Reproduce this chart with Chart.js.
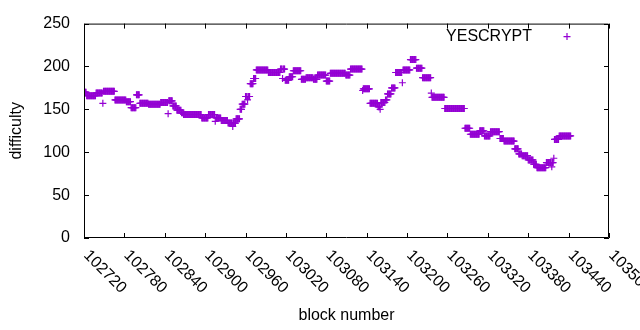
<!DOCTYPE html>
<html><head><meta charset="utf-8">
<script src="https://cdn.jsdelivr.net/npm/chart.js@4/dist/chart.umd.min.js"></script>
<style>html,body{margin:0;padding:0;background:#fff}canvas{display:block}</style>
</head><body>
<canvas id="c" width="640" height="330"></canvas>
<script>
const seriesLabel = 'YESCRYPT';
const xTitle = 'block number';
const yTitle = 'difficulty';
// runs of blocks sharing the same difficulty (first block of each run)
const runFirstBlock = [102720,102724,102738,102748,102749,102766,102783,102790,102798,102803,102816,102834,102845,102846,102852,102858,102865,102868,102895,102905,102915,102916,102924,102934,102941,102942,102946,102952,102955,102960,102963,102964,102967,102972,102976,102994,103012,103015,103016,103019,103025,103031,103043,103050,103061,103067,103080,103086,103109,103116,103134,103135,103145,103157,103160,103161,103168,103171,103177,103183,103193,103194,103205,103214,103223,103236,103237,103256,103286,103294,103308,103315,103324,103338,103344,103360,103366,103371,103380,103388,103393,103407,103415,103416,103418,103419,103426];
const lastBlock = 103443;
const runDifficulty = [170,166,169,157,171,161,159,152,167,157,
  156,158,145,160,154,149,146,144,140,144,
  136,140,137,134,130,134,139,150,156,165,
  161,165,180,186,196,193,197,186,197,184,
  188,195,185,187,185,190,183,192,190,197,
  172,174,157,153,150,158,161,168,175,193,
  181,196,208,198,187,169,164,151,128,121,
  125,119,124,116,113,104,98,96,91,86,
  82,88,83,88,93,115,119];
const xTicks = [102720,102780,102840,102900,102960,103020,103080,103140,103200,103260,103320,103380,103440,103500];
const yTicks = [0,50,100,150,200,250];

const points = [];
for (let i = 0; i < runFirstBlock.length; i++) {
  const end = i + 1 < runFirstBlock.length ? runFirstBlock[i + 1] - 1 : lastBlock;
  for (let b = runFirstBlock[i]; b <= end; b++) points.push({x: b, y: runDifficulty[i]});
}

const COLOR = '#9400d3';
const FONT = "'Liberation Sans', Arial, sans-serif";

const framePlugin = {
  id: 'frame',
  afterDraw(chart) {
    const {ctx, chartArea: a, scales: {x, y}} = chart;
    ctx.save();
    ctx.strokeStyle = '#000';
    ctx.lineWidth = 1;
    ctx.beginPath();
    ctx.rect(a.left + 0.5, a.top + 0.5, a.right - a.left - 1, a.bottom - a.top - 1);
    const tl = 5;
    y.ticks.forEach(t => {
      const py = Math.round(y.getPixelForValue(t.value)) + 0.5;
      ctx.moveTo(a.left, py); ctx.lineTo(a.left + tl, py);
      ctx.moveTo(a.right, py); ctx.lineTo(a.right - tl, py);
    });
    x.ticks.forEach(t => {
      const px = Math.round(x.getPixelForValue(t.value)) + 0.5;
      ctx.moveTo(px, a.bottom); ctx.lineTo(px, a.bottom - tl);
      ctx.moveTo(px, a.top); ctx.lineTo(px, a.top + tl);
    });
    ctx.stroke();
    // rotated x tick labels
    ctx.fillStyle = '#000';
    ctx.font = '16px ' + FONT;
    ctx.textAlign = 'left';
    ctx.textBaseline = 'middle';
    x.ticks.forEach(t => {
      const px = x.getPixelForValue(t.value);
      ctx.save();
      ctx.translate(px + 2, a.bottom + 15);
      ctx.rotate(Math.PI / 4);
      ctx.fillText(String(t.value), 0, 0);
      ctx.restore();
    });
    // legend
    const ly = a.top + 13;
    ctx.textAlign = 'right';
    ctx.fillText(chart.data.datasets[0].label, 532, ly);
    ctx.strokeStyle = COLOR;
    ctx.lineWidth = 1.2;
    ctx.beginPath();
    ctx.moveTo(567 - 3.5, ly); ctx.lineTo(567 + 3.5, ly);
    ctx.moveTo(567, ly - 3.5); ctx.lineTo(567, ly + 3.5);
    ctx.stroke();
    ctx.restore();
  }
};

new Chart(document.getElementById('c'), {
  type: 'scatter',
  data: {datasets: [{
    label: seriesLabel, data: points,
    pointStyle: 'cross', pointRadius: 3.5, pointHoverRadius: 3.5,
    pointBorderWidth: 1.2, borderColor: COLOR, backgroundColor: COLOR
  }]},
  options: {
    responsive: false, animation: false, events: [],
    layout: {padding: {top: 19, right: 31, left: 0, bottom: 0}},
    plugins: {legend: {display: false}, tooltip: {enabled: false}},
    scales: {
      x: {
        type: 'linear', min: xTicks[0], max: xTicks[xTicks.length - 1],
        afterBuildTicks: s => { s.ticks = xTicks.map(v => ({value: v})); },
        ticks: {display: false},
        grid: {display: false, drawTicks: false},
        border: {display: false},
        title: {display: true, text: xTitle, color: '#000', font: {family: FONT, size: 16}, padding: {top: 0, bottom: 5}},
        afterFit: s => { s.height = 92; }
      },
      y: {
        min: 0, max: 250,
        afterBuildTicks: s => { s.ticks = yTicks.map(v => ({value: v})); },
        ticks: {color: '#000', font: {family: FONT, size: 16}, padding: 14},
        grid: {display: false, drawTicks: false},
        border: {display: false},
        title: {display: true, text: yTitle, color: '#000', font: {family: FONT, size: 16}, padding: {top: 7, bottom: 0}},
        afterFit: s => { s.width = 84; }
      }
    }
  },
  plugins: [framePlugin]
});
</script>
</body></html>
